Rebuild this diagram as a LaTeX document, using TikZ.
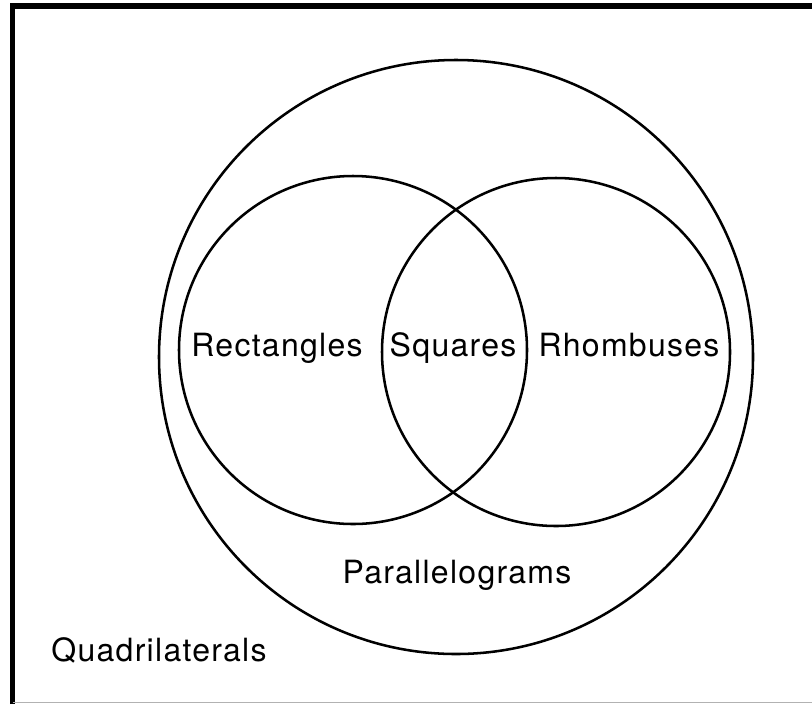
\documentclass[tikz,border=0pt]{standalone}
\usepackage{fontspec}
\setmainfont{TeX Gyre Heros}[LetterSpace=4.0]
\begin{document}
\begin{tikzpicture}[x=0.75pt,y=-0.75pt,
    set/.style ={circle, draw, line width=1.9pt, inner sep=0pt},
    setname/.style ={anchor=base, inner sep=0pt, font=\fontsize{24}{28}\selectfont}]
   \useasboundingbox (0,0) rectangle (812,704);
   % frame
   \draw[line width=3.8pt] (12.5,704) |- (812,6);
   \draw[gray!60, line width=0.8pt] (12.5,702.5) -- (812,702.5);

   \node[set, minimum size=445.5pt] (P) at (456,357) {};
   \node[set, minimum size=261pt] (R) at (353,350) {};
   \node[set, minimum size=261pt] (H) at (556,352) {};

   \node[setname] (rect) at (277,356) {Rectangles};
   \node[setname] (sq) at (453,356) {Squares};
   \node[setname] (rh) at (629,356) {Rhombuses};
   \node[setname] (par) at (457,583) {Parallelograms};
   \node[setname] (quad) at (159,661) {Quadrilaterals};
 \end{tikzpicture}
\end{document}
